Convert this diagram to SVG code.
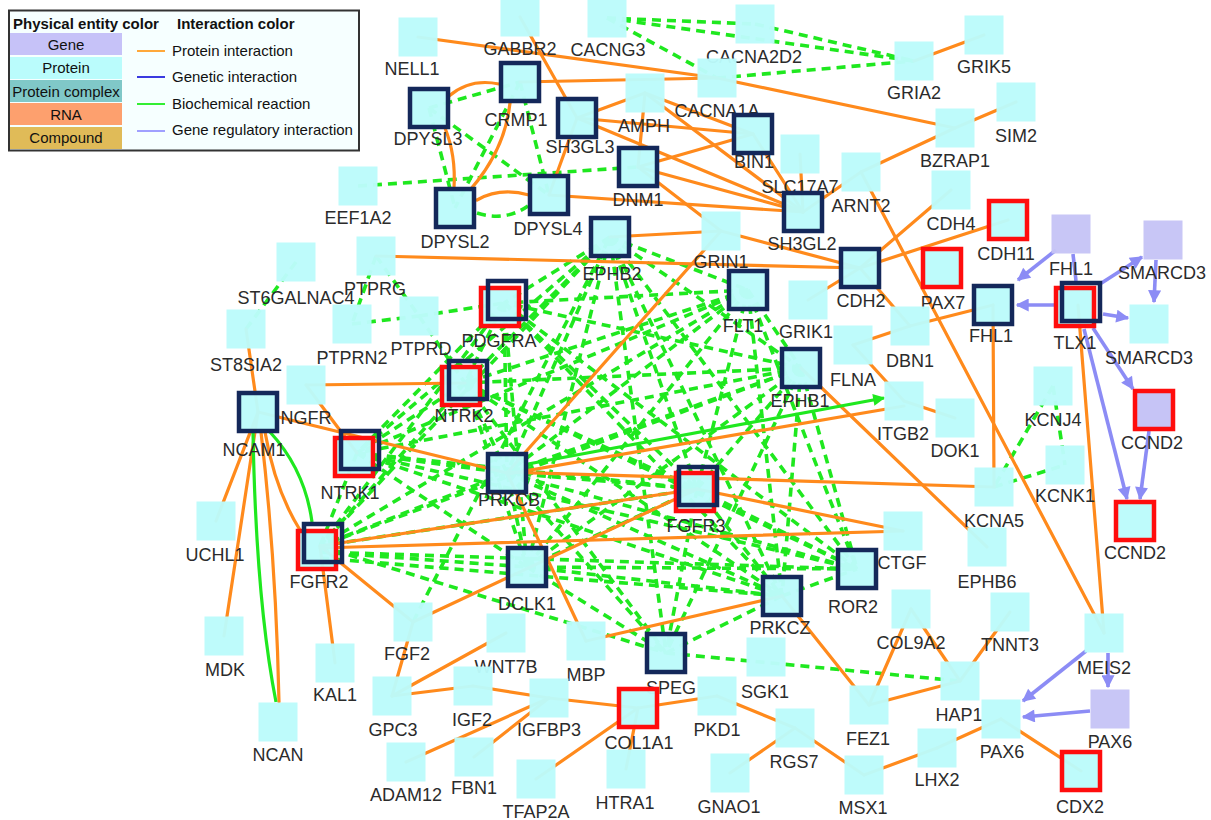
<svg xmlns="http://www.w3.org/2000/svg" width="1211" height="820" viewBox="0 0 1211 820">
<defs>
<style>
.pi{stroke:#ff8a1c;stroke-width:3.2;fill:none;stroke-linecap:round}
.bd{stroke:#1fe81f;stroke-width:3.6;fill:none;stroke-dasharray:9 6}
.bs{stroke:#1fe81f;stroke-width:3.2;fill:none}
.gr{stroke:#8c8cf5;stroke-width:3.6;fill:none}
.p{fill:#bcfbfb;fill-opacity:.97}
.g{fill:#c6c4f6;fill-opacity:.97}
.dk{fill:#bcfbfb;fill-opacity:.97;stroke:#14285a;stroke-width:4.5}
.dko{fill:none;stroke:#14285a;stroke-width:4.5}
.rd{fill:#bcfbfb;fill-opacity:.97;stroke:#ff0d0d;stroke-width:4.5}
.rg{fill:#c6c4f6;stroke:#ff0d0d;stroke-width:4.5}
.lbl{font-family:"Liberation Sans",Arial,sans-serif;font-size:18px;fill:#2b2b2b;text-anchor:middle}
.lt{font-family:"Liberation Sans",Arial,sans-serif;font-size:15px;fill:#111}
.lth{font-family:"Liberation Sans",Arial,sans-serif;font-size:15px;font-weight:bold;fill:#111}
</style>
<marker id="ah" viewBox="0 0 10 10" refX="9" refY="5" markerWidth="15" markerHeight="13" markerUnits="userSpaceOnUse" orient="auto"><path d="M0,0 L10,5 L0,10 z" fill="#8c8cf5"/></marker>
<marker id="ahg" viewBox="0 0 10 10" refX="9" refY="5" markerWidth="15" markerHeight="12" markerUnits="userSpaceOnUse" orient="auto"><path d="M0,0 L10,5 L0,10 z" fill="#1fe81f"/></marker>
</defs>
<rect width="1211" height="820" fill="#fff"/>

<g id="connectors">
<g id="biochemical-dashed">
<line class="bd" x1="607" y1="18" x2="914" y2="61"/>
<line class="bd" x1="755" y1="24" x2="914" y2="61"/>
<line class="bd" x1="717" y1="78" x2="914" y2="61"/>
<line class="bd" x1="607" y1="18" x2="717" y2="78"/>
<line class="bd" x1="607" y1="18" x2="755" y2="24"/>
<line class="bd" x1="358" y1="186" x2="638" y2="167"/>
<line class="bd" x1="429" y1="108" x2="520" y2="82"/>
<line class="bd" x1="429" y1="108" x2="455" y2="208"/>
<line class="bd" x1="520" y1="82" x2="455" y2="208"/>
<line class="bd" x1="520" y1="82" x2="549" y2="195"/>
<line class="bd" x1="429" y1="108" x2="549" y2="195"/>
<path class="bd" d="M477,213 Q505,222 528,206"/>
<line class="bd" x1="296" y1="262" x2="246" y2="329"/>
<line class="bd" x1="376" y1="256" x2="352" y2="324"/>
<line class="bd" x1="376" y1="256" x2="419" y2="316"/>
<line class="bd" x1="352" y1="324" x2="419" y2="316"/>
<line class="bd" x1="419" y1="316" x2="504" y2="303"/>
<line class="bd" x1="419" y1="316" x2="465" y2="383"/>
<line class="bd" x1="1053" y1="386" x2="994" y2="487"/>
<line class="bd" x1="1053" y1="386" x2="1065" y2="465"/>
<line class="bd" x1="994" y1="487" x2="1065" y2="465"/>
<line class="bd" x1="666" y1="653" x2="960" y2="681"/>
<line class="bd" x1="413" y1="622" x2="610" y2="237"/>
<line class="bd" x1="610" y1="237" x2="504" y2="303"/>
<line class="bd" x1="610" y1="237" x2="465" y2="383"/>
<line class="bd" x1="610" y1="237" x2="357" y2="453"/>
<line class="bd" x1="610" y1="237" x2="507" y2="473"/>
<line class="bd" x1="610" y1="237" x2="697" y2="489"/>
<line class="bd" x1="610" y1="237" x2="320" y2="546"/>
<line class="bd" x1="610" y1="237" x2="527" y2="567"/>
<line class="bd" x1="610" y1="237" x2="748" y2="290"/>
<line class="bd" x1="610" y1="237" x2="801" y2="368"/>
<line class="bd" x1="610" y1="237" x2="857" y2="569"/>
<line class="bd" x1="610" y1="237" x2="782" y2="596"/>
<line class="bd" x1="610" y1="237" x2="666" y2="653"/>
<line class="bd" x1="748" y1="290" x2="504" y2="303"/>
<line class="bd" x1="748" y1="290" x2="465" y2="383"/>
<line class="bd" x1="748" y1="290" x2="357" y2="453"/>
<line class="bd" x1="748" y1="290" x2="507" y2="473"/>
<line class="bd" x1="748" y1="290" x2="697" y2="489"/>
<line class="bd" x1="748" y1="290" x2="320" y2="546"/>
<line class="bd" x1="748" y1="290" x2="527" y2="567"/>
<line class="bd" x1="748" y1="290" x2="801" y2="368"/>
<line class="bd" x1="748" y1="290" x2="857" y2="569"/>
<line class="bd" x1="748" y1="290" x2="782" y2="596"/>
<line class="bd" x1="801" y1="368" x2="504" y2="303"/>
<line class="bd" x1="801" y1="368" x2="465" y2="383"/>
<line class="bd" x1="801" y1="368" x2="357" y2="453"/>
<line class="bd" x1="801" y1="368" x2="507" y2="473"/>
<line class="bd" x1="801" y1="368" x2="697" y2="489"/>
<line class="bd" x1="801" y1="368" x2="320" y2="546"/>
<line class="bd" x1="801" y1="368" x2="527" y2="567"/>
<line class="bd" x1="801" y1="368" x2="857" y2="569"/>
<line class="bd" x1="801" y1="368" x2="666" y2="653"/>
<line class="bd" x1="801" y1="368" x2="782" y2="596"/>
<line class="bd" x1="504" y1="303" x2="465" y2="383"/>
<line class="bd" x1="504" y1="303" x2="357" y2="453"/>
<line class="bd" x1="504" y1="303" x2="507" y2="473"/>
<line class="bd" x1="504" y1="303" x2="697" y2="489"/>
<line class="bd" x1="504" y1="303" x2="320" y2="546"/>
<line class="bd" x1="504" y1="303" x2="527" y2="567"/>
<line class="bd" x1="504" y1="303" x2="782" y2="596"/>
<line class="bd" x1="504" y1="303" x2="857" y2="569"/>
<line class="bd" x1="465" y1="383" x2="357" y2="453"/>
<line class="bd" x1="465" y1="383" x2="507" y2="473"/>
<line class="bd" x1="465" y1="383" x2="697" y2="489"/>
<line class="bd" x1="465" y1="383" x2="320" y2="546"/>
<line class="bd" x1="465" y1="383" x2="527" y2="567"/>
<line class="bd" x1="465" y1="383" x2="782" y2="596"/>
<line class="bd" x1="465" y1="383" x2="857" y2="569"/>
<line class="bd" x1="465" y1="383" x2="666" y2="653"/>
<line class="bd" x1="357" y1="453" x2="507" y2="473"/>
<line class="bd" x1="357" y1="453" x2="697" y2="489"/>
<line class="bd" x1="357" y1="453" x2="320" y2="546"/>
<line class="bd" x1="357" y1="453" x2="527" y2="567"/>
<line class="bd" x1="357" y1="453" x2="782" y2="596"/>
<line class="bd" x1="357" y1="453" x2="857" y2="569"/>
<line class="bd" x1="507" y1="473" x2="697" y2="489"/>
<line class="bd" x1="507" y1="473" x2="320" y2="546"/>
<line class="bd" x1="507" y1="473" x2="527" y2="567"/>
<line class="bd" x1="507" y1="473" x2="782" y2="596"/>
<line class="bd" x1="507" y1="473" x2="857" y2="569"/>
<line class="bd" x1="507" y1="473" x2="666" y2="653"/>
<line class="bd" x1="697" y1="489" x2="320" y2="546"/>
<line class="bd" x1="697" y1="489" x2="527" y2="567"/>
<line class="bd" x1="697" y1="489" x2="782" y2="596"/>
<line class="bd" x1="697" y1="489" x2="857" y2="569"/>
<line class="bd" x1="697" y1="489" x2="666" y2="653"/>
<line class="bd" x1="320" y1="552" x2="527" y2="567"/>
<line class="bd" x1="320" y1="558" x2="782" y2="596"/>
<line class="bd" x1="320" y1="552" x2="857" y2="569"/>
<line class="bd" x1="320" y1="546" x2="666" y2="653"/>
<line class="bd" x1="527" y1="567" x2="782" y2="596"/>
<line class="bd" x1="527" y1="567" x2="857" y2="569"/>
<line class="bd" x1="527" y1="567" x2="666" y2="653"/>
<line class="bd" x1="782" y1="596" x2="857" y2="569"/>
<line class="bd" x1="782" y1="596" x2="666" y2="653"/>
</g>
<g id="protein-interactions">
<line class="pi" x1="418" y1="37" x2="717" y2="78"/>
<line class="pi" x1="520" y1="17" x2="577" y2="118"/>
<line class="pi" x1="717" y1="78" x2="955" y2="128"/>
<path class="pi" d="M449,96 Q470,78 499,84"/>
<line class="pi" x1="520" y1="82" x2="717" y2="78"/>
<line class="pi" x1="577" y1="118" x2="645" y2="93"/>
<line class="pi" x1="577" y1="118" x2="753" y2="134"/>
<line class="pi" x1="577" y1="118" x2="803" y2="212"/>
<line class="pi" x1="645" y1="93" x2="638" y2="167"/>
<line class="pi" x1="645" y1="93" x2="753" y2="134"/>
<line class="pi" x1="645" y1="93" x2="803" y2="212"/>
<line class="pi" x1="638" y1="167" x2="753" y2="134"/>
<line class="pi" x1="638" y1="167" x2="803" y2="212"/>
<line class="pi" x1="638" y1="167" x2="721" y2="231"/>
<path class="pi" d="M510,103 Q505,150 470,190"/>
<path class="pi" d="M445,128 Q456,155 454,188"/>
<line class="pi" x1="577" y1="118" x2="549" y2="195"/>
<path class="pi" d="M477,200 Q500,187 529,195"/>
<line class="pi" x1="549" y1="195" x2="803" y2="212"/>
<line class="pi" x1="610" y1="237" x2="721" y2="231"/>
<line class="pi" x1="376" y1="256" x2="860" y2="268"/>
<line class="pi" x1="721" y1="231" x2="860" y2="268"/>
<line class="pi" x1="721" y1="231" x2="507" y2="473"/>
<line class="pi" x1="753" y1="134" x2="803" y2="212"/>
<line class="pi" x1="800" y1="154" x2="803" y2="212"/>
<line class="pi" x1="861" y1="172" x2="803" y2="212"/>
<line class="pi" x1="861" y1="172" x2="955" y2="128"/>
<line class="pi" x1="955" y1="128" x2="1016" y2="102"/>
<line class="pi" x1="914" y1="61" x2="984" y2="35"/>
<line class="pi" x1="861" y1="172" x2="1104" y2="633"/>
<line class="pi" x1="860" y1="268" x2="951" y2="190"/>
<line class="pi" x1="860" y1="268" x2="1008" y2="220"/>
<line class="pi" x1="808" y1="300" x2="860" y2="268"/>
<line class="pi" x1="860" y1="268" x2="910" y2="326"/>
<line class="pi" x1="910" y1="326" x2="853" y2="345"/>
<line class="pi" x1="853" y1="345" x2="904" y2="401"/>
<line class="pi" x1="910" y1="326" x2="993" y2="305"/>
<line class="pi" x1="507" y1="474" x2="904" y2="406"/>
<line class="pi" x1="507" y1="472" x2="994" y2="487"/>
<line class="pi" x1="801" y1="368" x2="987" y2="547"/>
<line class="pi" x1="904" y1="401" x2="955" y2="418"/>
<line class="pi" x1="320" y1="548" x2="903" y2="531"/>
<line class="pi" x1="697" y1="489" x2="903" y2="531"/>
<line class="pi" x1="320" y1="546" x2="697" y2="489"/>
<line class="pi" x1="697" y1="489" x2="413" y2="622"/>
<line class="pi" x1="258" y1="412" x2="507" y2="473"/>
<line class="pi" x1="507" y1="473" x2="586" y2="641"/>
<line class="pi" x1="320" y1="546" x2="413" y2="622"/>
<line class="pi" x1="320" y1="546" x2="335" y2="663"/>
<line class="pi" x1="782" y1="596" x2="586" y2="641"/>
<line class="pi" x1="782" y1="596" x2="869" y2="705"/>
<line class="pi" x1="306" y1="385" x2="357" y2="453"/>
<line class="pi" x1="306" y1="385" x2="465" y2="383"/>
<line class="pi" x1="246" y1="329" x2="258" y2="412"/>
<line class="pi" x1="258" y1="412" x2="216" y2="521"/>
<line class="pi" x1="258" y1="412" x2="224" y2="636"/>
<path class="pi" d="M261,432 Q276,560 279,702"/>
<path class="pi" d="M265,432 Q275,490 300,530"/>
<line class="pi" x1="993" y1="305" x2="994" y2="487"/>
<line class="pi" x1="1078" y1="305" x2="1104" y2="633"/>
<line class="pi" x1="1001" y1="719" x2="1081" y2="771"/>
<line class="pi" x1="1001" y1="719" x2="937" y2="748"/>
<line class="pi" x1="937" y1="748" x2="864" y2="775"/>
<line class="pi" x1="960" y1="681" x2="869" y2="705"/>
<line class="pi" x1="960" y1="681" x2="911" y2="609"/>
<line class="pi" x1="960" y1="681" x2="1010" y2="612"/>
<line class="pi" x1="869" y1="705" x2="911" y2="609"/>
<line class="pi" x1="795" y1="728" x2="864" y2="775"/>
<line class="pi" x1="717" y1="696" x2="795" y2="728"/>
<line class="pi" x1="795" y1="728" x2="730" y2="773"/>
<line class="pi" x1="638" y1="708" x2="717" y2="696"/>
<line class="pi" x1="638" y1="708" x2="626" y2="769"/>
<line class="pi" x1="638" y1="708" x2="536" y2="779"/>
<line class="pi" x1="638" y1="708" x2="549" y2="698"/>
<line class="pi" x1="549" y1="698" x2="473" y2="686"/>
<line class="pi" x1="549" y1="698" x2="474" y2="757"/>
<line class="pi" x1="549" y1="698" x2="406" y2="762"/>
<line class="pi" x1="392" y1="696" x2="473" y2="686"/>
<line class="pi" x1="392" y1="696" x2="506" y2="633"/>
<line class="pi" x1="392" y1="696" x2="413" y2="622"/>
</g>
<g id="biochemical-solid">
<path class="bs" d="M253,432 Q256,600 276,702"/>
<path class="bs" d="M270,432 Q305,470 312,522"/>
<line class="bs" x1="528" y1="464" x2="884" y2="398" marker-end="url(#ahg)"/>
</g>
<g id="gene-regulatory">
<line class="gr" x1="1056" y1="250" x2="1018" y2="280" marker-end="url(#ah)"/>
<line class="gr" x1="1073" y1="254" x2="1076" y2="281"/>
<line class="gr" x1="1054" y1="305" x2="1017" y2="305" marker-end="url(#ah)"/>
<line class="gr" x1="1100" y1="284" x2="1142" y2="257" marker-end="url(#ah)"/>
<line class="gr" x1="1156" y1="260" x2="1154" y2="302" marker-end="url(#ah)"/>
<line class="gr" x1="1103" y1="314" x2="1128" y2="318" marker-end="url(#ah)"/>
<line class="gr" x1="1093" y1="328" x2="1133" y2="389" marker-end="url(#ah)"/>
<line class="gr" x1="1084" y1="329" x2="1127" y2="499" marker-end="url(#ah)"/>
<line class="gr" x1="1149" y1="431" x2="1140" y2="499" marker-end="url(#ah)"/>
<line class="gr" x1="1086" y1="651" x2="1023" y2="701" marker-end="url(#ah)"/>
<line class="gr" x1="1108" y1="653" x2="1108" y2="687" marker-end="url(#ah)"/>
<line class="gr" x1="1090" y1="711" x2="1023" y2="717" marker-end="url(#ah)"/>
</g>
</g>

<g id="nodes">
<g id="n-NELL1"><rect class="p" x="398.5" y="17.5" width="39" height="39"/><text class="lbl" x="412" y="75">NELL1</text></g>
<g id="n-GABBR2"><rect class="p" x="500.5" y="-2.5" width="39" height="39"/><text class="lbl" x="520" y="55">GABBR2</text></g>
<g id="n-CACNG3"><rect class="p" x="587.5" y="-1.5" width="39" height="39"/><text class="lbl" x="608" y="56">CACNG3</text></g>
<g id="n-CACNA2D2"><rect class="p" x="735.5" y="4.5" width="39" height="39"/><text class="lbl" x="754" y="63">CACNA2D2</text></g>
<g id="n-CACNA1A"><rect class="p" x="697.5" y="58.5" width="39" height="39"/><text class="lbl" x="717" y="117">CACNA1A</text></g>
<g id="n-AMPH"><rect class="p" x="625.5" y="73.5" width="39" height="39"/><text class="lbl" x="644" y="132">AMPH</text></g>
<g id="n-CRMP1"><rect class="dk" x="501" y="63" width="38" height="38"/><text class="lbl" x="516" y="126">CRMP1</text></g>
<g id="n-DPYSL3"><rect class="dk" x="410" y="89" width="38" height="38"/><text class="lbl" x="428" y="145">DPYSL3</text></g>
<g id="n-SH3GL3"><rect class="dk" x="558" y="99" width="38" height="38"/><text class="lbl" x="580" y="153">SH3GL3</text></g>
<g id="n-DNM1"><rect class="dk" x="619" y="148" width="38" height="38"/><text class="lbl" x="638" y="206">DNM1</text></g>
<g id="n-BIN1"><rect class="dk" x="734" y="115" width="38" height="38"/><text class="lbl" x="754" y="168">BIN1</text></g>
<g id="n-DPYSL2"><rect class="dk" x="436" y="189" width="38" height="38"/><text class="lbl" x="455" y="248">DPYSL2</text></g>
<g id="n-DPYSL4"><rect class="dk" x="530" y="176" width="38" height="38"/><text class="lbl" x="548" y="235">DPYSL4</text></g>
<g id="n-EPHB2"><rect class="dk" x="591" y="218" width="38" height="38"/><text class="lbl" x="612" y="280">EPHB2</text></g>
<g id="n-GRIN1"><rect class="p" x="701.5" y="211.5" width="39" height="39"/><text class="lbl" x="721" y="268">GRIN1</text></g>
<g id="n-SLC17A7"><rect class="p" x="780.5" y="134.5" width="39" height="39"/><text class="lbl" x="800" y="193">SLC17A7</text></g>
<g id="n-SH3GL2"><rect class="dk" x="784" y="193" width="38" height="38"/><text class="lbl" x="802" y="250">SH3GL2</text></g>
<g id="n-GRIA2"><rect class="p" x="894.5" y="41.5" width="39" height="39"/><text class="lbl" x="914" y="99">GRIA2</text></g>
<g id="n-GRIK5"><rect class="p" x="964.5" y="15.5" width="39" height="39"/><text class="lbl" x="984" y="73">GRIK5</text></g>
<g id="n-SIM2"><rect class="p" x="996.5" y="82.5" width="39" height="39"/><text class="lbl" x="1016" y="142">SIM2</text></g>
<g id="n-BZRAP1"><rect class="p" x="935.5" y="108.5" width="39" height="39"/><text class="lbl" x="955" y="167">BZRAP1</text></g>
<g id="n-ARNT2"><rect class="p" x="841.5" y="152.5" width="39" height="39"/><text class="lbl" x="861" y="212">ARNT2</text></g>
<g id="n-CDH4"><rect class="p" x="931.5" y="170.5" width="39" height="39"/><text class="lbl" x="951" y="230">CDH4</text></g>
<g id="n-CDH11"><rect class="rd" x="989" y="201" width="38" height="38"/><text class="lbl" x="1006" y="260">CDH11</text></g>
<g id="n-FHL1-gene"><rect class="g" x="1051.5" y="214.5" width="39" height="39"/><text class="lbl" x="1071" y="275">FHL1</text></g>
<g id="n-SMARCD3-gene"><rect class="g" x="1143.5" y="220.5" width="39" height="39"/><text class="lbl" x="1162" y="279">SMARCD3</text></g>
<g id="n-CDH2"><rect class="dk" x="841" y="249" width="38" height="38"/><text class="lbl" x="861" y="307">CDH2</text></g>
<g id="n-PAX7"><rect class="rd" x="923" y="249" width="38" height="38"/><text class="lbl" x="943" y="309">PAX7</text></g>
<g id="n-FHL1"><rect class="dk" x="974" y="286" width="38" height="38"/><text class="lbl" x="991" y="342">FHL1</text></g>
<g id="n-TLX1"><rect class="rd" x="1056" y="288" width="38" height="38"/><rect class="dko" x="1062" y="283" width="38" height="38"/><text class="lbl" x="1075" y="349">TLX1</text></g>
<g id="n-SMARCD3"><rect class="p" x="1129.5" y="304.5" width="39" height="39"/><text class="lbl" x="1149" y="364">SMARCD3</text></g>
<g id="n-DBN1"><rect class="p" x="890.5" y="306.5" width="39" height="39"/><text class="lbl" x="910" y="367">DBN1</text></g>
<g id="n-FLNA"><rect class="p" x="833.5" y="325.5" width="39" height="39"/><text class="lbl" x="853" y="386">FLNA</text></g>
<g id="n-GRIK1"><rect class="p" x="788.5" y="280.5" width="39" height="39"/><text class="lbl" x="806" y="338">GRIK1</text></g>
<g id="n-FLT1"><rect class="dk" x="729" y="271" width="38" height="38"/><text class="lbl" x="743" y="332">FLT1</text></g>
<g id="n-EPHB1"><rect class="dk" x="782" y="349" width="38" height="38"/><text class="lbl" x="800" y="407">EPHB1</text></g>
<g id="n-CCND2-gene"><rect class="rg" x="1135" y="391" width="38" height="38"/><text class="lbl" x="1152" y="449">CCND2</text></g>
<g id="n-ITGB2"><rect class="p" x="884.5" y="381.5" width="39" height="39"/><text class="lbl" x="903" y="440">ITGB2</text></g>
<g id="n-DOK1"><rect class="p" x="935.5" y="398.5" width="39" height="39"/><text class="lbl" x="955" y="457">DOK1</text></g>
<g id="n-KCNJ4"><rect class="p" x="1033.5" y="366.5" width="39" height="39"/><text class="lbl" x="1053" y="426">KCNJ4</text></g>
<g id="n-KCNK1"><rect class="p" x="1045.5" y="445.5" width="39" height="39"/><text class="lbl" x="1065" y="502">KCNK1</text></g>
<g id="n-KCNA5"><rect class="p" x="974.5" y="467.5" width="39" height="39"/><text class="lbl" x="994" y="527">KCNA5</text></g>
<g id="n-CCND2"><rect class="rd" x="1116" y="502" width="38" height="38"/><text class="lbl" x="1135" y="559">CCND2</text></g>
<g id="n-CTGF"><rect class="p" x="883.5" y="511.5" width="39" height="39"/><text class="lbl" x="902" y="569">CTGF</text></g>
<g id="n-EPHB6"><rect class="p" x="967.5" y="527.5" width="39" height="39"/><text class="lbl" x="987" y="588">EPHB6</text></g>
<g id="n-ROR2"><rect class="dk" x="838" y="550" width="38" height="38"/><text class="lbl" x="853" y="613">ROR2</text></g>
<g id="n-COL9A2"><rect class="p" x="891.5" y="589.5" width="39" height="39"/><text class="lbl" x="911" y="649">COL9A2</text></g>
<g id="n-TNNT3"><rect class="p" x="990.5" y="592.5" width="39" height="39"/><text class="lbl" x="1010" y="651">TNNT3</text></g>
<g id="n-MEIS2"><rect class="p" x="1084.5" y="613.5" width="39" height="39"/><text class="lbl" x="1104" y="674">MEIS2</text></g>
<g id="n-HAP1"><rect class="p" x="940.5" y="661.5" width="39" height="39"/><text class="lbl" x="959" y="721">HAP1</text></g>
<g id="n-FEZ1"><rect class="p" x="849.5" y="685.5" width="39" height="39"/><text class="lbl" x="868" y="745">FEZ1</text></g>
<g id="n-PAX6"><rect class="p" x="981.5" y="699.5" width="39" height="39"/><text class="lbl" x="1002" y="758">PAX6</text></g>
<g id="n-PAX6-gene"><rect class="g" x="1090.5" y="689.5" width="39" height="39"/><text class="lbl" x="1110" y="748">PAX6</text></g>
<g id="n-LHX2"><rect class="p" x="917.5" y="728.5" width="39" height="39"/><text class="lbl" x="937" y="786">LHX2</text></g>
<g id="n-MSX1"><rect class="p" x="844.5" y="755.5" width="39" height="39"/><text class="lbl" x="863" y="814">MSX1</text></g>
<g id="n-CDX2"><rect class="rd" x="1062" y="752" width="38" height="38"/><text class="lbl" x="1080" y="813">CDX2</text></g>
<g id="n-DCLK1"><rect class="dk" x="508" y="548" width="38" height="38"/><text class="lbl" x="527" y="610">DCLK1</text></g>
<g id="n-PRKCZ"><rect class="dk" x="763" y="577" width="38" height="38"/><text class="lbl" x="780" y="634">PRKCZ</text></g>
<g id="n-SPEG"><rect class="dk" x="647" y="634" width="38" height="38"/><text class="lbl" x="671" y="694">SPEG</text></g>
<g id="n-MBP"><rect class="p" x="566.5" y="621.5" width="39" height="39"/><text class="lbl" x="586" y="681">MBP</text></g>
<g id="n-WNT7B"><rect class="p" x="486.5" y="613.5" width="39" height="39"/><text class="lbl" x="506" y="673">WNT7B</text></g>
<g id="n-FGF2"><rect class="p" x="393.5" y="602.5" width="39" height="39"/><text class="lbl" x="407" y="660">FGF2</text></g>
<g id="n-IGF2"><rect class="p" x="453.5" y="666.5" width="39" height="39"/><text class="lbl" x="472" y="726">IGF2</text></g>
<g id="n-IGFBP3"><rect class="p" x="529.5" y="678.5" width="39" height="39"/><text class="lbl" x="549" y="736">IGFBP3</text></g>
<g id="n-COL1A1"><rect class="rd" x="619" y="689" width="38" height="38"/><text class="lbl" x="639" y="749">COL1A1</text></g>
<g id="n-PKD1"><rect class="p" x="697.5" y="676.5" width="39" height="39"/><text class="lbl" x="717" y="736">PKD1</text></g>
<g id="n-SGK1"><rect class="p" x="746.5" y="637.5" width="39" height="39"/><text class="lbl" x="765" y="698">SGK1</text></g>
<g id="n-RGS7"><rect class="p" x="775.5" y="708.5" width="39" height="39"/><text class="lbl" x="794" y="768">RGS7</text></g>
<g id="n-HTRA1"><rect class="p" x="606.5" y="749.5" width="39" height="39"/><text class="lbl" x="625" y="809">HTRA1</text></g>
<g id="n-GNAO1"><rect class="p" x="710.5" y="753.5" width="39" height="39"/><text class="lbl" x="729" y="813">GNAO1</text></g>
<g id="n-TFAP2A"><rect class="p" x="516.5" y="759.5" width="39" height="39"/><text class="lbl" x="536" y="818">TFAP2A</text></g>
<g id="n-FBN1"><rect class="p" x="454.5" y="737.5" width="39" height="39"/><text class="lbl" x="474" y="794">FBN1</text></g>
<g id="n-ADAM12"><rect class="p" x="386.5" y="742.5" width="39" height="39"/><text class="lbl" x="406" y="801">ADAM12</text></g>
<g id="n-GPC3"><rect class="p" x="372.5" y="676.5" width="39" height="39"/><text class="lbl" x="393" y="736">GPC3</text></g>
<g id="n-MDK"><rect class="p" x="204.5" y="616.5" width="39" height="39"/><text class="lbl" x="225" y="676">MDK</text></g>
<g id="n-KAL1"><rect class="p" x="315.5" y="643.5" width="39" height="39"/><text class="lbl" x="335" y="701">KAL1</text></g>
<g id="n-NCAN"><rect class="p" x="258.5" y="702.5" width="39" height="39"/><text class="lbl" x="278" y="761">NCAN</text></g>
<g id="n-UCHL1"><rect class="p" x="196.5" y="501.5" width="39" height="39"/><text class="lbl" x="215" y="561">UCHL1</text></g>
<g id="n-FGFR2"><rect class="rd" x="298" y="531" width="38" height="38"/><rect class="dko" x="304" y="524" width="38" height="38"/><text class="lbl" x="319" y="588">FGFR2</text></g>
<g id="n-ST8SIA2"><rect class="p" x="226.5" y="309.5" width="39" height="39"/><text class="lbl" x="246" y="371">ST8SIA2</text></g>
<g id="n-NCAM1"><rect class="dk" x="239" y="393" width="38" height="38"/><text class="lbl" x="254" y="456">NCAM1</text></g>
<g id="n-NGFR"><rect class="p" x="286.5" y="365.5" width="39" height="39"/><text class="lbl" x="306" y="424">NGFR</text></g>
<g id="n-PTPRN2"><rect class="p" x="332.5" y="304.5" width="39" height="39"/><text class="lbl" x="352" y="364">PTPRN2</text></g>
<g id="n-ST6GALNAC4"><rect class="p" x="276.5" y="242.5" width="39" height="39"/><text class="lbl" x="296" y="304">ST6GALNAC4</text></g>
<g id="n-PTPRG"><rect class="p" x="356.5" y="236.5" width="39" height="39"/><text class="lbl" x="375" y="295">PTPRG</text></g>
<g id="n-EEF1A2"><rect class="p" x="338.5" y="166.5" width="39" height="39"/><text class="lbl" x="358" y="224">EEF1A2</text></g>
<g id="n-PTPRD"><rect class="p" x="399.5" y="296.5" width="39" height="39"/><text class="lbl" x="421" y="355">PTPRD</text></g>
<g id="n-PDGFRA"><rect class="rd" x="481" y="288" width="38" height="38"/><rect class="dko" x="488" y="281" width="38" height="38"/><text class="lbl" x="499" y="347">PDGFRA</text></g>
<g id="n-NTRK2"><rect class="rd" x="442" y="367" width="38" height="38"/><rect class="dko" x="449" y="361" width="38" height="38"/><text class="lbl" x="464" y="422">NTRK2</text></g>
<g id="n-NTRK1"><rect class="rd" x="335" y="438" width="38" height="38"/><rect class="dko" x="341" y="431" width="38" height="38"/><text class="lbl" x="350" y="499">NTRK1</text></g>
<g id="n-PRKCB"><rect class="dk" x="488" y="454" width="38" height="38"/><text class="lbl" x="509" y="506">PRKCB</text></g>
<g id="n-FGFR3"><rect class="rd" x="676" y="473" width="38" height="38"/><rect class="dko" x="679" y="467" width="38" height="38"/><text class="lbl" x="696" y="532">FGFR3</text></g>
</g>

<g id="legend">
<rect x="9" y="10.5" width="350" height="140" fill="#f6ffff" stroke="#333" stroke-width="2"/>
<text class="lth" x="13" y="29">Physical entity color</text>
<text class="lth" x="177" y="29">Interaction color</text>
<rect x="10" y="33" width="112" height="22" fill="#c6c2f8"/>
<rect x="10" y="57" width="112" height="22" fill="#bafcfc"/>
<rect x="10" y="80" width="112" height="22" fill="#80c8c8"/>
<rect x="10" y="103" width="112" height="22" fill="#fda06e"/>
<rect x="10" y="127" width="112" height="22" fill="#e0bb58"/>
<text class="lt" x="66" y="50" text-anchor="middle">Gene</text>
<text class="lt" x="66" y="73" text-anchor="middle">Protein</text>
<text class="lt" x="66" y="97" text-anchor="middle">Protein complex</text>
<text class="lt" x="66" y="120" text-anchor="middle">RNA</text>
<text class="lt" x="66" y="143" text-anchor="middle">Compound</text>
<line x1="137" y1="51" x2="165" y2="51" stroke="#ffa83a" stroke-width="2"/>
<line x1="137" y1="77" x2="165" y2="77" stroke="#3a3ae0" stroke-width="2"/>
<line x1="137" y1="104" x2="165" y2="104" stroke="#33ee33" stroke-width="2"/>
<line x1="137" y1="131" x2="165" y2="131" stroke="#a0a0ff" stroke-width="2"/>
<text class="lt" x="172" y="56">Protein interaction</text>
<text class="lt" x="172" y="82">Genetic interaction</text>
<text class="lt" x="172" y="109">Biochemical reaction</text>
<text class="lt" x="172" y="135">Gene regulatory interaction</text>
</g>
</svg>
